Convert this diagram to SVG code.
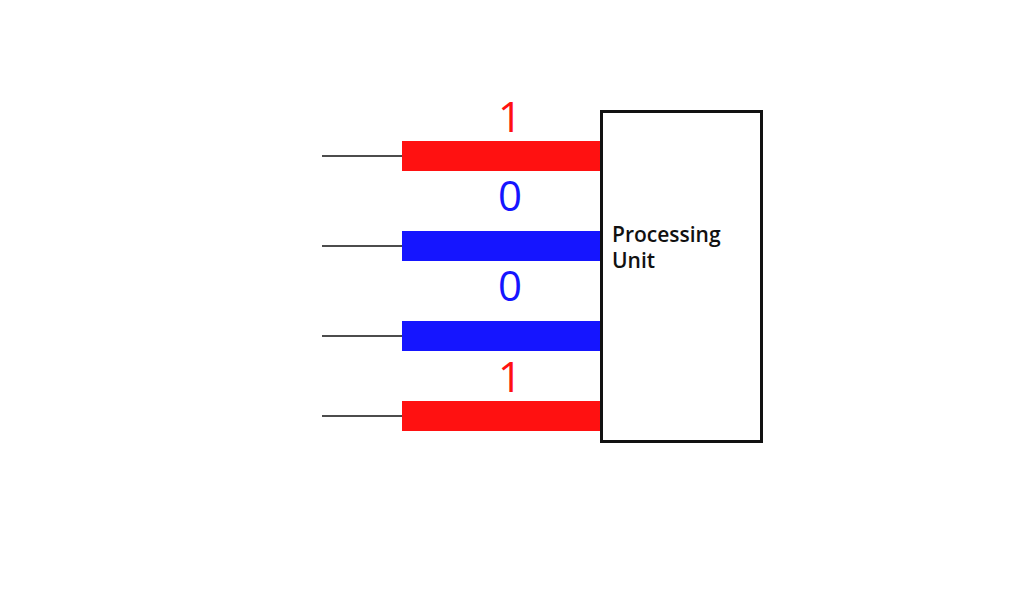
<svg xmlns="http://www.w3.org/2000/svg" width="1023" height="603" viewBox="0 0 1023 603">
<style>
.wire{stroke:#111;stroke-width:1.6;fill:none}
.one{fill:#ff1111}
.zero{fill:#1515ff}
.digit{font-family:"Open Sans","Noto Sans",sans-serif;font-size:42px;text-anchor:middle}
.lbl{font-family:"Open Sans","Noto Sans",sans-serif;font-size:21px;font-weight:600;fill:#111}
</style>
<rect width="1023" height="603" fill="#fff"/>
<g id="connectors">
<line class="wire" x1="322" y1="156" x2="402" y2="156"/>
<line class="wire" x1="322" y1="246" x2="402" y2="246"/>
<line class="wire" x1="322" y1="336" x2="402" y2="336"/>
<line class="wire" x1="322" y1="416" x2="402" y2="416"/>
</g>
<g id="input1">
<rect class="one" x="402" y="141" width="199" height="30"/>
<text class="digit one" x="510" y="132">1</text>
</g>
<g id="input2">
<rect class="zero" x="402" y="231" width="199" height="30"/>
<text class="digit zero" x="510" y="211">0</text>
</g>
<g id="input3">
<rect class="zero" x="402" y="321" width="199" height="30"/>
<text class="digit zero" x="510" y="301">0</text>
</g>
<g id="input4">
<rect class="one" x="402" y="401" width="199" height="30"/>
<text class="digit one" x="510" y="392">1</text>
</g>
<g id="processing-unit">
<rect x="601.5" y="111.5" width="160" height="330" fill="#fff" stroke="#111" stroke-width="3"/>
<text class="lbl" x="612" y="242">Processing</text>
<text class="lbl" x="612" y="268">Unit</text>
</g>
</svg>
